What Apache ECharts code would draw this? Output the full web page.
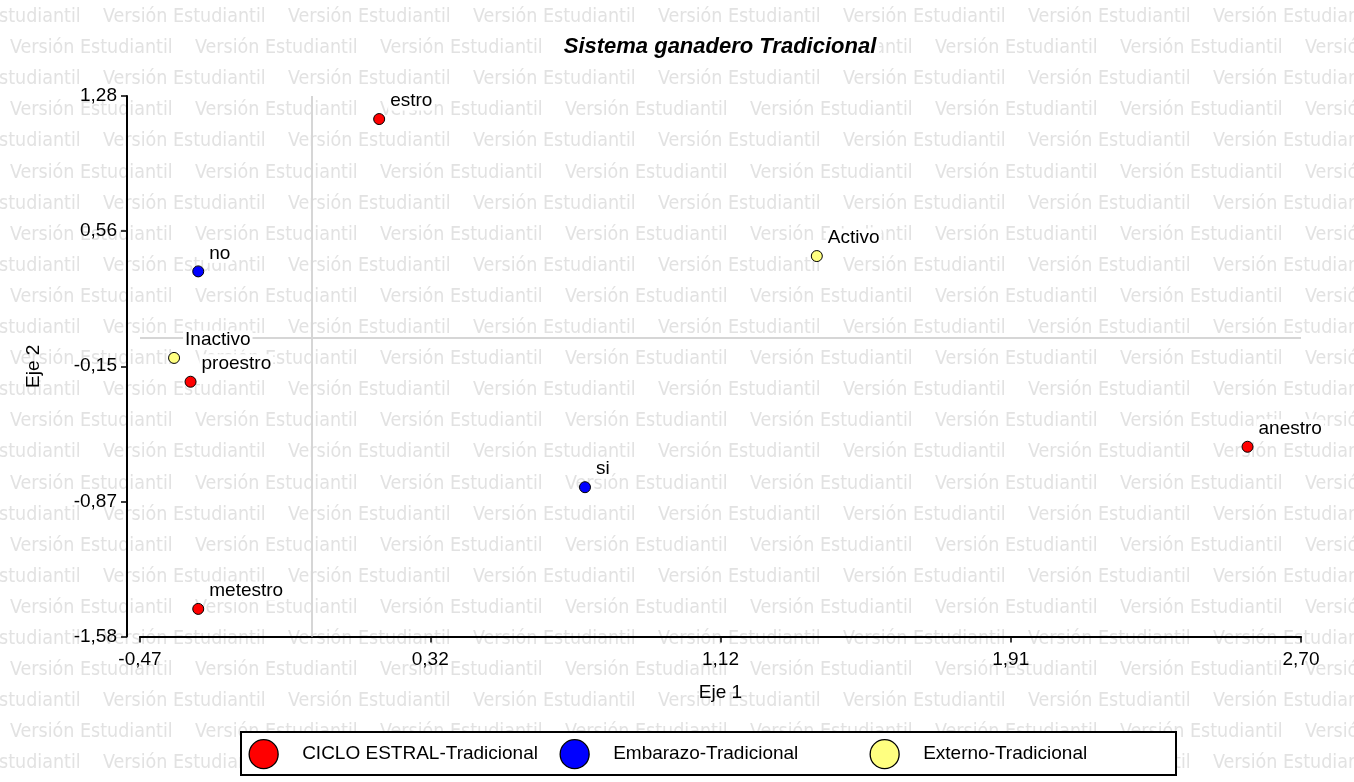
<!DOCTYPE html>
<html>
<head>
<meta charset="utf-8">
<script src="https://cdn.jsdelivr.net/npm/echarts@6/dist/echarts.min.js"></script>
<style>
html,body{margin:0;padding:0;background:#fff;}
#chart{width:1354px;height:782px;}
</style>
</head>
<body>
<div id="chart"></div>
<script>
// ---- data ----
const seriesNames = ['CICLO ESTRAL-Tradicional', 'Embarazo-Tradicional', 'Externo-Tradicional'];

const cicloNames = ['estro', 'proestro', 'anestro', 'metestro'];
const cicloX = [0.183, -0.332, 2.554, -0.311];
const cicloY = [1.158, -0.232, -0.576, -1.434];

const embarazoNames = ['no', 'si'];
const embarazoX = [-0.311, 0.745];
const embarazoY = [0.352, -0.790];

const externoNames = ['Activo', 'Inactivo'];
const externoX = [1.378, -0.377];
const externoY = [0.433, -0.106];

const xTickValues = [-0.47, 0.3225, 1.115, 1.9075, 2.70];
const xTickLabels = ['-0,47', '0,32', '1,12', '1,91', '2,70'];
const yTickValues = [-1.58, -0.865, -0.15, 0.565, 1.28];
const yTickLabels = ['-1,58', '-0,87', '-0,15', '0,56', '1,28'];

const titleText = 'Sistema ganadero Tradicional';
const xName = 'Eje 1';
const yName = 'Eje 2';
const watermarkText = 'Versión Estudiantil';

// ---- helpers ----
function pack(xs, ys, names) {
  return xs.map((x, i) => [x, ys[i], names[i]]);
}
function lookup(values, labels) {
  return function (v) {
    for (let i = 0; i < values.length; i++) {
      if (Math.abs(values[i] - v) < 1e-6) return labels[i];
    }
    return '';
  };
}

const FONT = 'Liberation Sans, Arial, sans-serif';
const WFONT = '"DejaVu Sans Condensed", "Liberation Sans Narrow", sans-serif';

// watermark pattern (decoration)
const graphics = [];
const rowPitch = 31.1, colPitch = 185;
for (let i = 0; i < 26; i++) {
  const y = 17 + rowPitch * i;
  const startX = (i % 2 === 0) ? -82 : 10;
  for (let x = startX; x < 1354; x += colPitch) {
    graphics.push({
      type: 'text', x: x, y: y, z: -10, silent: true,
      style: { text: watermarkText, fill: '#e2e2e2', font: '19.5px ' + WFONT, textVerticalAlign: 'middle' }
    });
  }
}
graphics.push({
  type: 'text', x: 720, y: 47, z: 100, silent: true,
  style: {
    text: titleText, fill: '#000', font: 'italic bold 22px ' + FONT,
    textAlign: 'center', textVerticalAlign: 'middle',
    backgroundColor: '#fff', padding: [1, 3]
  }
});
// legend frame
graphics.push({
  type: 'rect', z: 1, silent: true,
  shape: { x: 241, y: 732, width: 935, height: 43 },
  style: { fill: '#fff', stroke: '#000', lineWidth: 2 }
});

const labelStyle = {
  show: true, position: 'right', distance: 3, offset: [0, -18],
  formatter: p => p.data[2], fontSize: 19, fontFamily: FONT, color: '#000',
  backgroundColor: '#fff', padding: [0, 2]
};
function scatter(name, color, data) {
  return {
    name: name, type: 'scatter', z: 5, data: data, symbolSize: 11,
    itemStyle: { color: color, borderColor: '#000', borderWidth: 1, opacity: 1 },
    label: labelStyle, emphasis: { disabled: true }
  };
}
const legendCenters = [264, 575, 885];
function legendFor(i) {
  return {
    data: [seriesNames[i]],
    left: legendCenters[i] - 15.5, top: 739,
    padding: 0,
    itemWidth: 31, itemHeight: 29,
    icon: 'circle',
    itemStyle: { borderColor: '#000', borderWidth: 1.3 },
    textStyle: { fontSize: 19, fontFamily: FONT, color: '#000', padding: [0, 0, 0, 18] },
    selectedMode: false, z: 5
  };
}

const chart = echarts.init(document.getElementById('chart'));
chart.setOption({
  backgroundColor: '#fff',
  animation: false,
  graphic: graphics,
  grid: { left: 140, right: 53, top: 96, bottom: 145.5, containLabel: false },
  xAxis: {
    type: 'value', min: -0.47, max: 2.70,
    name: xName, nameLocation: 'middle', nameGap: 47,
    nameTextStyle: { fontSize: 19, fontFamily: FONT, color: '#000' },
    axisLine: { show: true, onZero: false, lineStyle: { color: '#000', width: 2 } },
    axisTick: { show: true, length: 6, customValues: xTickValues, lineStyle: { color: '#000', width: 1.5 } },
    axisLabel: { customValues: xTickValues, formatter: lookup(xTickValues, xTickLabels), margin: 14, fontSize: 19, fontFamily: FONT, color: '#000' },
    splitLine: { show: false }
  },
  yAxis: {
    type: 'value', min: -1.58, max: 1.28, offset: 13,
    name: yName, nameLocation: 'middle', nameGap: 84,
    nameTextStyle: { fontSize: 19, fontFamily: FONT, color: '#000' },
    axisLine: { show: true, onZero: false, lineStyle: { color: '#000', width: 2 } },
    axisTick: { show: true, length: 6, customValues: yTickValues, lineStyle: { color: '#000', width: 1.5 } },
    axisLabel: { customValues: yTickValues, formatter: lookup(yTickValues, yTickLabels), margin: 10, fontSize: 19, fontFamily: FONT, color: '#000' },
    splitLine: { show: false }
  },
  legend: [legendFor(0), legendFor(1), legendFor(2)],
  series: [
    {
      name: 'zero-lines', type: 'scatter', data: [], z: 1, silent: true,
      markLine: {
        silent: true, symbol: ['none', 'none'], label: { show: false },
        lineStyle: { color: '#d6d6d6', width: 2, type: 'solid' },
        emphasis: { disabled: true },
        data: [{ xAxis: 0 }, { yAxis: 0 }]
      }
    },
    scatter(seriesNames[0], '#ff0000', pack(cicloX, cicloY, cicloNames)),
    scatter(seriesNames[1], '#0000ff', pack(embarazoX, embarazoY, embarazoNames)),
    scatter(seriesNames[2], '#ffff80', pack(externoX, externoY, externoNames))
  ]
});
</script>
</body>
</html>
